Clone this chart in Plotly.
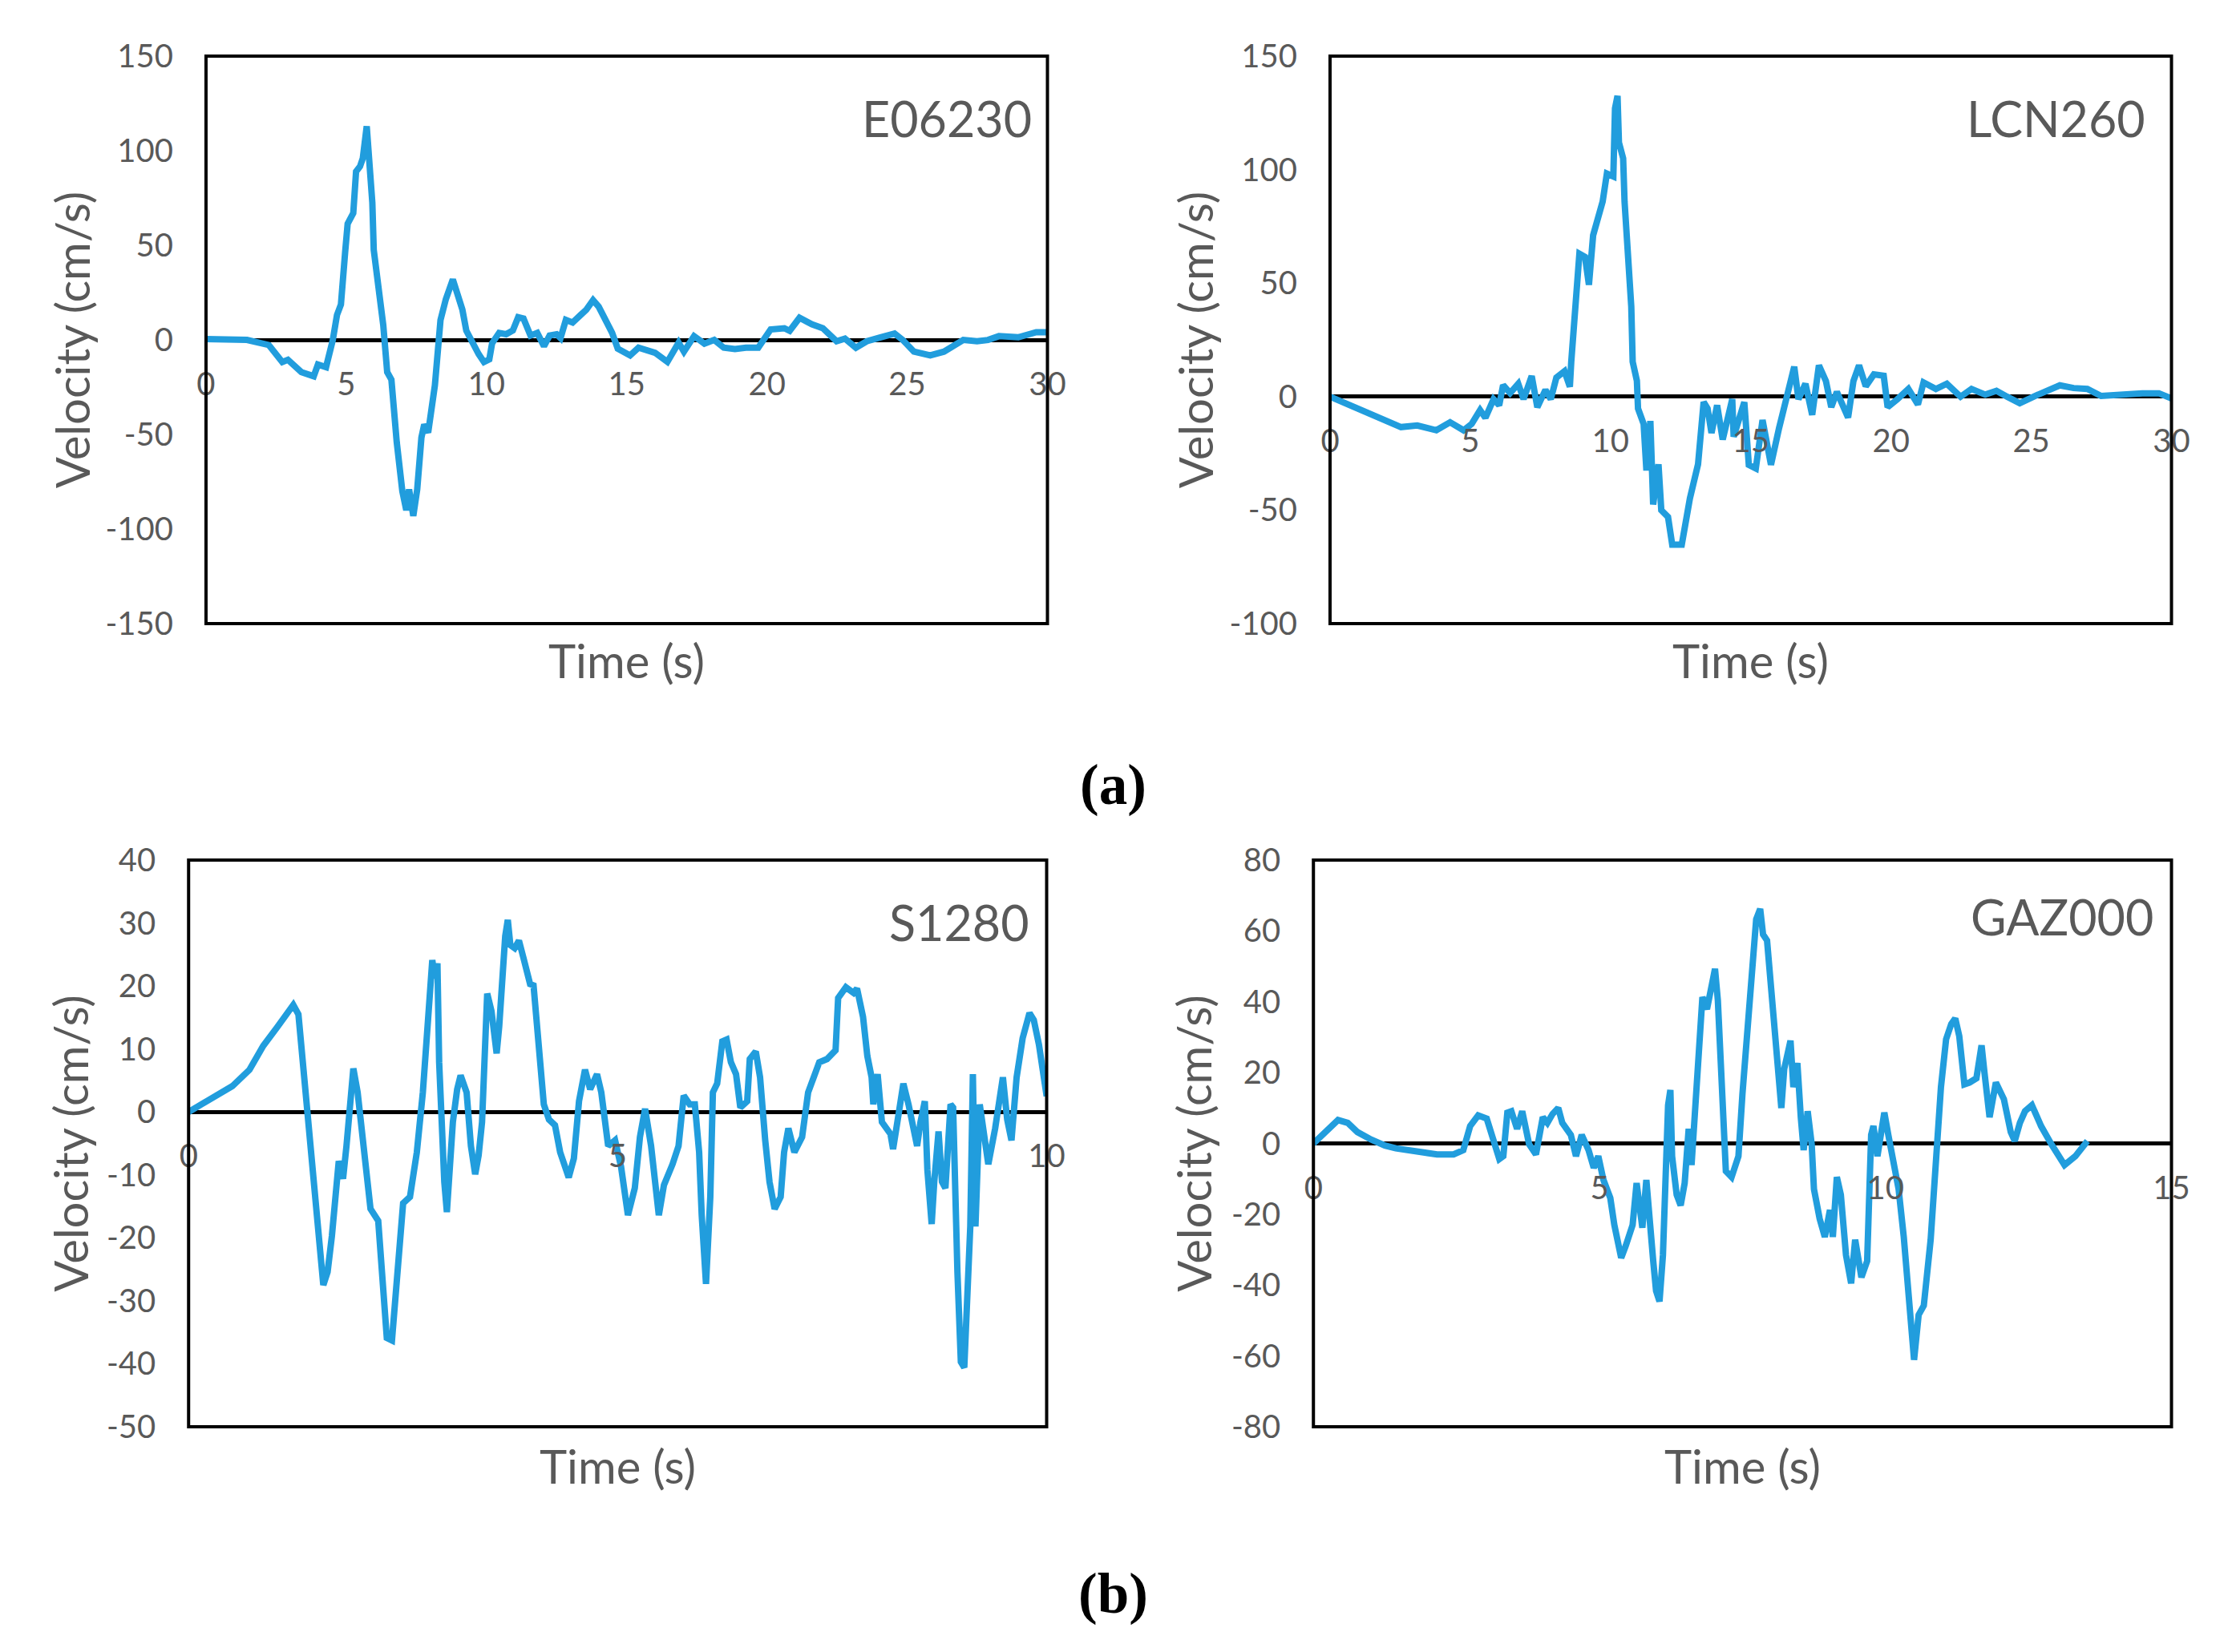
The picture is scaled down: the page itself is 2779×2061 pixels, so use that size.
import plotly.graph_objects as go

# E06230
time_e06230 = [0, 1.46, 2.24, 2.72, 2.92, 3.4, 3.84, 3.99, 4.28, 4.42,
               4.52, 4.67, 4.81, 4.96, 5.05, 5.25, 5.35, 5.49, 5.59, 5.73,
               5.83, 5.93, 5.98, 6.12, 6.32, 6.46, 6.61, 6.8, 7.0, 7.14,
               7.24, 7.39, 7.53, 7.68, 7.78, 7.92, 8.16, 8.36, 8.55, 8.8,
               8.89, 9.14, 9.28, 9.53, 9.72, 9.91, 10.1, 10.2, 10.45, 10.7,
               10.94, 11.13, 11.32, 11.57, 11.81, 12.05, 12.25, 12.5, 12.64, 12.83,
               13.07, 13.37, 13.56, 13.8, 14.0, 14.29, 14.48, 14.68, 14.97, 15.12,
               15.42, 16.01, 16.45, 16.85, 17.04, 17.4, 17.77, 18.12, 18.46, 18.86,
               19.25, 19.69, 20.13, 20.62, 20.81, 21.16, 21.6, 21.99, 22.48, 22.78,
               23.17, 23.56, 24.05, 24.55, 24.84, 25.24, 25.82, 26.31, 27.0, 27.49,
               27.88, 28.27, 28.96, 29.6, 30.0]
vel_e06230 = [0.5, 0, -2.7, -11.7, -10.5, -17, -19.2, -13, -14.4, -7.5,
              0, 13.2, 18.7, 46.3, 61.4, 67, 89, 91.7, 96, 113,
              96, 72.5, 47.6, 32.5, 7.8, -17, -21, -54, -80, -90,
              -79, -93, -79, -51.6, -44.7, -49, -24, 10.5, 21.5, 32,
              27, 16, 4.9, -3.3, -7.5, -11.7, -10.3, -1.8, 3.7, 3,
              5, 12, 11.3, 2.3, 3.7, -3.3, 2.3, 3, 1, 10.6,
              9.2, 13.4, 16, 21, 17.6, 9.2, 3.7, -4.6, -7.5, -8.2,
              -4.1, -6.8, -11.6, -1.4, -6.2, 2, -2, 0, -4.1, -4.8,
              -4.1, -4.1, 5.5, 6.2, 4.8, 11.7, 8.3, 6.2, -0.7, 0.7,
              -4.1, -0.7, 1.4, 3.4, 0, -6.2, -8.2, -6.2, 0, -0.7,
              0, 2, 1.4, 4.1, 4.1]

# LCN260
time_lcn260 = [0, 0.97, 1.94, 2.53, 3.11, 3.79, 4.28, 4.76, 5.05, 5.35,
               5.54, 5.83, 6.03, 6.17, 6.42, 6.71, 6.9, 7.19, 7.39, 7.68,
               7.87, 8.07, 8.36, 8.55, 8.6, 8.75, 8.89, 9.09, 9.23, 9.38,
               9.53, 9.72, 9.87, 10.1, 10.16, 10.25, 10.3, 10.45, 10.5, 10.6,
               10.74, 10.79, 10.94, 10.98, 11.18, 11.28, 11.42, 11.52, 11.71, 11.81,
               12.05, 12.2, 12.54, 12.83, 13.12, 13.32, 13.46, 13.6, 13.8, 14.0,
               14.34, 14.39, 14.58, 14.77, 14.93, 15.18, 15.42, 15.72, 16.01, 16.3,
               16.55, 16.7, 16.95, 17.19, 17.43, 17.68, 17.87, 18.07, 18.47, 18.66,
               18.86, 19.1, 19.39, 19.74, 19.88, 20.23, 20.62, 20.96, 21.16, 21.6,
               21.99, 22.48, 22.87, 23.36, 23.76, 24.14, 24.59, 25.13, 25.53, 26.02,
               26.51, 27.0, 27.49, 27.98, 28.47, 28.96, 29.55, 30.0]
vel_lcn260 = [0, -5.2, -10, -13.4, -12.7, -14.8, -11.3, -14.8, -12, -5.9,
              -9.3, -1.1, -3.8, 5.1, 1.6, 5.7, -1.1, 9.1, -4.6, 3,
              -1.1, 8.4, 11.2, 4.4, 15.4, 37.2, 63, 61.6, 49.3, 71.1,
              78, 86, 98.3, 97, 127, 132.5, 112, 105, 86, 69.7,
              39.7, 15.4, 7, -5.2, -12, -32.5, -10.7, -47.5, -29.8, -50,
              -53, -65.2, -65.2, -44.8, -29.8, -2.4, -5.2, -16, -3.8, -18.9,
              -1.1, -17.6, -9.3, -2.4, -30, -31.6, -10.3, -30, -13.8, 0,
              13.2, -1.1, 5.7, -8, 13.8, 6.9, -4.6, 2.1, -9.2, 6.9,
              13.8, 4.6, 9.8, 9.2, -4.6, -1.1, 3.4, -3.4, 6.3, 3.4,
              5.7, 0, 3.4, 0.9, 2.6, 0, -2.9, 0.3, 2.6, 5,
              3.8, 3.4, 0.3, 0.9, 1.5, 1.5, 1.5, -0.8]

# S1280
time_s1280 = [0, 0.16, 0.32, 0.51, 0.71, 0.87, 1.03, 1.22, 1.28, 1.33,
              1.38, 1.44, 1.51, 1.57, 1.62, 1.67, 1.75, 1.8, 1.84, 1.89,
              1.92, 1.97, 2.05, 2.12, 2.21, 2.28, 2.31, 2.37, 2.45, 2.5,
              2.58, 2.66, 2.73, 2.77, 2.81, 2.84, 2.87, 2.9, 2.92, 2.95,
              2.98, 3.01, 3.03, 3.08, 3.13, 3.17, 3.24, 3.29, 3.34, 3.38,
              3.42, 3.45, 3.48, 3.53, 3.59, 3.62, 3.66, 3.69, 3.72, 3.75,
              3.8, 3.85, 3.9, 3.98, 4.02, 4.07, 4.14, 4.2, 4.27, 4.33,
              4.43, 4.49, 4.55, 4.62, 4.68, 4.76, 4.81, 4.89, 4.97, 5.04,
              5.12, 5.2, 5.26, 5.32, 5.39, 5.48, 5.54, 5.64, 5.71, 5.77,
              5.84, 5.9, 5.95, 5.98, 6.03, 6.08, 6.11, 6.16, 6.22, 6.27,
              6.32, 6.38, 6.43, 6.51, 6.54, 6.61, 6.66, 6.72, 6.77, 6.83,
              6.9, 6.94, 6.99, 7.06, 7.15, 7.22, 7.28, 7.35, 7.44, 7.54,
              7.57, 7.66, 7.75, 7.79, 7.86, 7.91, 7.96, 7.98, 8.03, 8.08,
              8.18, 8.21, 8.26, 8.33, 8.39, 8.44, 8.49, 8.53, 8.58, 8.61,
              8.66, 8.69, 8.74, 8.78, 8.82, 8.88, 8.91, 8.96, 9.0, 9.04,
              9.07, 9.11, 9.14, 9.17, 9.22, 9.25, 9.32, 9.4, 9.46, 9.49,
              9.54, 9.59, 9.65, 9.72, 9.8, 9.85, 9.91, 9.97, 10.0]
vel_s1280 = [0, 1.2, 2.4, 4.1, 6.7, 10.5, 13.4, 17, 15.5, 7.9,
             -0.7, -7.8, -20.6, -27.5, -25.4, -19.7, -7.8, -10.6, -5.4, 3.1,
             6.9, 3.1, -7.8, -15.4, -17.3, -29.2, -35.9, -36.3, -22, -14.5,
             -13.5, -6.4, 3.1, 10.3, 17.4, 24.1, 21.2, 23.6, 7.9, -5.4,
             -11.1, -15.9, -11.1, -1.6, 3.6, 5.8, 3.1, -5.4, -9.9, -6.9,
             -1.6, 11.7, 18.8, 16, 9.3, 13.6, 23.6, 27.9, 30.5, 26.5,
             26, 27.2, 24.6, 20.3, 20.1, 12.7, 1.2, -1.2, -2.1, -6.4,
             -10.4, -7.4, 1.7, 6.7, 3.6, 6, 3.1, -5.4, -4.5, -8.7,
             -16.4, -12.1, -4, 0.5, -5.4, -16.4, -11.6, -8.3, -5.4, 2.6,
             1.2, 1.2, -6.4, -16.4, -27.3, -13.5, 3.1, 4.5, 11.2, 11.5,
             7.9, 6, 0.7, 1.7, 8.4, 9.6, 5.5, -4.5, -11.1, -15.4,
             -13.5, -6.4, -2.6, -6.4, -4, 3.1, 5.5, 7.9, 8.4, 9.8,
             18.1, 19.8, 18.9, 19.6, 15.1, 8.9, 5.5, 1.2, 6, -1.6,
             -3.5, -5.9, -1.6, 4.5, 1.2, -2.6, -5.4, -1.6, 1.7, -9.2,
             -17.8, -11.1, -3.1, -11.1, -12.1, 1.2, 0.7, -25.4, -39.7, -40.6,
             -29.2, -18.2, 6, -18.2, 1.2, -1.6, -8.3, -2.6, 3.1, 5.5,
             -1.2, -4.5, 5.5, 11.7, 15.7, 14.6, 10.7, 5, 2.5]

# GAZ000
time_gaz000 = [0, 0.19, 0.43, 0.6, 0.77, 1.01, 1.25, 1.44, 1.83, 2.16,
               2.45, 2.62, 2.74, 2.88, 3.03, 3.13, 3.25, 3.32, 3.39, 3.46,
               3.56, 3.65, 3.77, 3.89, 4.01, 4.09, 4.18, 4.28, 4.35, 4.5,
               4.59, 4.69, 4.81, 4.9, 4.98, 5.07, 5.19, 5.26, 5.38, 5.46,
               5.58, 5.65, 5.75, 5.82, 5.87, 5.94, 5.99, 6.05, 6.11, 6.15,
               6.2, 6.24, 6.27, 6.35, 6.42, 6.49, 6.56, 6.61, 6.68, 6.76,
               6.8, 6.88, 6.95, 7.02, 7.07, 7.12, 7.16, 7.21, 7.31, 7.43,
               7.5, 7.58, 7.66, 7.74, 7.81, 7.86, 7.93, 8.02, 8.11, 8.18,
               8.23, 8.34, 8.39, 8.46, 8.52, 8.57, 8.64, 8.71, 8.75, 8.85,
               8.94, 9.03, 9.08, 9.15, 9.22, 9.31, 9.4, 9.47, 9.58, 9.68,
               9.75, 9.79, 9.86, 9.98, 10.05, 10.14, 10.23, 10.32, 10.41, 10.5,
               10.58, 10.67, 10.79, 10.88, 10.97, 11.06, 11.15, 11.22, 11.29, 11.38,
               11.47, 11.59, 11.68, 11.73, 11.82, 11.93, 12.07, 12.19, 12.26, 12.35,
               12.44, 12.56, 12.72, 12.9, 13.13, 13.32, 13.53]
vel_gaz000 = [0, 3.2, 6.6, 5.8, 3.2, 1.1, -0.6, -1.4, -2.3, -3.1,
              -3.1, -1.9, 4.9, 7.9, 7, 2.4, -4.4, -3.6, 8.7, 9.1,
              4.1, 9.1, -0.2, -3.1, 7.4, 5.8, 8.3, 10, 5.8, 2.4,
              -3.6, 2.4, -1.9, -6.9, -3.6, -10.3, -15.4, -23, -32.3, -28.9,
              -23, -11.2, -23.8, -10.3, -22.2, -33.2, -41.6, -44.6, -31.5, -14.5,
              10.8, 15.1, -3.6, -14.5, -17.5, -11.2, 4.1, -6.1, 10.8, 26,
              41.3, 37.9, 43, 49.3, 40.4, 24.4, 9.1, -7.8, -9.5, -3.6,
              14, 32, 46.3, 63.3, 66.2, 59, 57.3, 40.4, 27.7, 10,
              21, 29, 15.9, 22.7, 7.4, -1.9, 9.1, -0.2, -12.9, -21.3,
              -26.4, -18.8, -26.4, -9.5, -14.5, -31.5, -39.5, -27.2, -37.8, -33.2,
              2.4, 4.9, -3.6, 8.7, 2.4, -4.4, -12.9, -26.4, -46.7, -61.1,
              -48.4, -45.8, -27.2, -6.1, 15.9, 29.4, 33.7, 35.3, 30.3, 16.7,
              17.2, 18.4, 27.7, 20.1, 7.4, 17.2, 12.5, 3.2, 0.7, 5.8,
              9.1, 10.8, 4.9, -0.2, -6.1, -3.6, 0.7]

# axis ticks (Excel style hyphen minus)
yticks_e06230 = [-150, -100, -50, 0, 50, 100, 150]
yticks_lcn260 = [-100, -50, 0, 50, 100, 150]
yticks_s1280 = [-50, -40, -30, -20, -10, 0, 10, 20, 30, 40]
yticks_gaz000 = [-80, -60, -40, -20, 0, 20, 40, 60, 80]

# page body has an 8px margin, so the figure is drawn 16px smaller and offset
PAGE_W, PAGE_H = 2779, 2061
OFF = 8
W, H = PAGE_W - 2 * OFF, PAGE_H - 2 * OFF
LINE_COLOR = "#219ddd"
GRAY = "#595959"
FONT = "Lato"
TICK_SIZE = 40
TITLE_SIZE = 58


def dom_x(left, right):
    return [(left - OFF) / W, (right - OFF) / W]


def dom_y(top, bottom):
    return [1 - (bottom - OFF) / H, 1 - (top - OFF) / H]


panels = [
    dict(name="E06230", t=time_e06230, v=vel_e06230, xr=[0, 30], yr=[-150, 150], yt=yticks_e06230,
         dx=dom_x(248, 1311), dy_=dom_y(46, 771), ytitle_off=170, xtitle_off=46, name_in=18, name_y=0.891),
    dict(name="LCN260", t=time_lcn260, v=vel_lcn260, xr=[0, 30], yr=[-100, 150], yt=yticks_lcn260,
         dx=dom_x(1668, 2731), dy_=dom_y(46, 771), ytitle_off=171, xtitle_off=46, name_in=31, name_y=0.891),
    dict(name="S1280", t=time_s1280, v=vel_s1280, xr=[0, 10], yr=[-50, 40], yt=yticks_s1280,
         dx=dom_x(226, 1310), dy_=dom_y(1073, 1797), ytitle_off=150, xtitle_off=50, name_in=20, name_y=0.891),
    dict(name="GAZ000", t=time_gaz000, v=vel_gaz000, xr=[0, 15], yr=[-80, 80], yt=yticks_gaz000,
         dx=dom_x(1647, 2731), dy_=dom_y(1073, 1797), ytitle_off=152, xtitle_off=50, name_in=21, name_y=0.90),
]

fig = go.Figure()
annotations = []
shapes = []

for i, p in enumerate(panels, start=1):
    sfx = "" if i == 1 else str(i)
    xa, ya = "x" + sfx, "y" + sfx
    fig.add_trace(go.Scatter(x=p["t"], y=p["v"], mode="lines",
                             line=dict(color=LINE_COLOR, width=8),
                             xaxis=xa, yaxis=ya, showlegend=False))
    y0, y1 = p["dy_"]
    zero = y0 + (0 - p["yr"][0]) / (p["yr"][1] - p["yr"][0]) * (y1 - y0)
    w_px = (p["dx"][1] - p["dx"][0]) * W
    h_px = (y1 - y0) * H
    fig.layout["xaxis" + sfx] = dict(
        domain=p["dx"], range=p["xr"], dtick=5, anchor="free", position=zero,
        showgrid=False, zeroline=False, showline=False, ticks="",
        tickfont=dict(family=FONT, size=TICK_SIZE, color=GRAY), ticklabelstandoff=28)
    fig.layout["yaxis" + sfx] = dict(
        domain=p["dy_"], range=p["yr"], tickvals=p["yt"], ticktext=[str(v) for v in p["yt"]],
        anchor=xa, showgrid=False, zeroline=True, zerolinecolor="black", zerolinewidth=5,
        showline=False, ticks="",
        tickfont=dict(family=FONT, size=TICK_SIZE, color=GRAY), ticklabelstandoff=40)
    shapes.append(dict(type="rect", xref=xa + " domain", yref=ya + " domain",
                       x0=0, x1=1, y0=0, y1=1, line=dict(color="black", width=4)))
    annotations.append(dict(text="Velocity (cm/s)", textangle=-90, showarrow=False,
                            xref=xa + " domain", yref=ya + " domain",
                            x=-p["ytitle_off"] / w_px, y=0.5, xanchor="center", yanchor="middle",
                            font=dict(family=FONT, size=TITLE_SIZE, color=GRAY)))
    annotations.append(dict(text="Time (s)", showarrow=False,
                            xref=xa + " domain", yref=ya + " domain",
                            x=0.5, y=-p["xtitle_off"] / h_px, xanchor="center", yanchor="middle",
                            font=dict(family=FONT, size=TITLE_SIZE, color=GRAY)))
    annotations.append(dict(text=p["name"], showarrow=False,
                            xref=xa + " domain", yref=ya + " domain",
                            x=1 - p["name_in"] / w_px, y=p["name_y"], xanchor="right", yanchor="middle",
                            font=dict(family=FONT, size=61, color=GRAY)))

for label, ypix in [("(a)", 977), ("(b)", 2010)]:
    annotations.append(dict(text="<b>" + label + "</b>", showarrow=False, xref="paper", yref="paper",
                            x=(1394 - OFF) / W, y=1 - (ypix - OFF) / H, xanchor="center", yanchor="middle",
                            font=dict(family="Liberation Serif", size=71, color="black")))

fig.update_layout(width=W, height=H, margin=dict(l=0, r=0, t=0, b=0),
                  paper_bgcolor="white", plot_bgcolor="white",
                  annotations=annotations, shapes=shapes)

fig.write_html("out.html")
